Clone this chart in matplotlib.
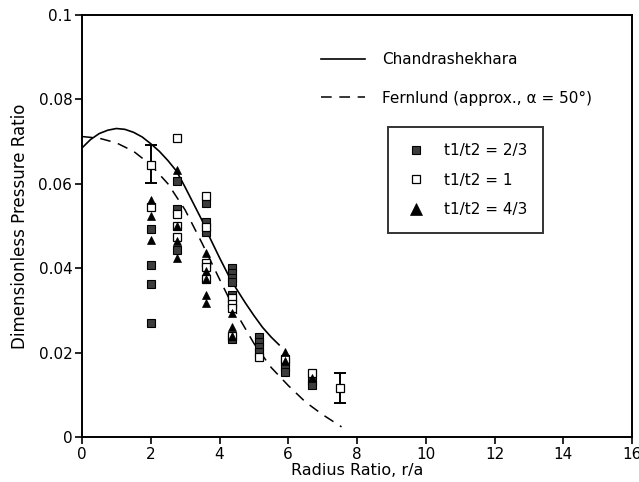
import matplotlib
matplotlib.use("Agg")
import matplotlib.pyplot as plt
from matplotlib.lines import Line2D

# ---- data ----
chand_x = [0.0, 0.25, 0.5, 0.75, 1.0, 1.25, 1.5, 1.75, 2.0, 2.25, 2.5, 2.75, 3.0, 3.25,
           3.5, 3.75, 4.0, 4.25, 4.5, 4.75, 5.0, 5.25, 5.5, 5.75]
chand_y = [0.0685, 0.0705, 0.0719, 0.0727, 0.0731, 0.0729, 0.0722, 0.0711, 0.0695, 0.0677,
           0.0655, 0.0630, 0.0592, 0.0552, 0.0512, 0.0467, 0.0425, 0.0385, 0.0350, 0.0318,
           0.0288, 0.0260, 0.0237, 0.0217]

fern_x = [0.0, 0.5, 1.0, 1.5, 2.0, 2.5, 3.0, 3.5, 4.0, 4.5, 5.0, 5.5, 6.0, 6.5, 7.0, 7.55]
fern_y = [0.0712, 0.0708, 0.0697, 0.0677, 0.0645, 0.0600, 0.0538, 0.0458, 0.0374, 0.0292,
          0.0222, 0.0165, 0.0122, 0.0083, 0.0053, 0.0024]

# t1/t2 = 2/3 (filled squares)
f_x = [2, 2, 2, 2, 2.75, 2.75, 2.75, 3.6, 3.6, 3.6,
       4.35, 4.35, 4.35, 4.35, 4.35, 4.35, 5.15, 5.15, 5.15, 5.15,
       5.9, 5.9, 5.9, 6.7, 6.7]
f_y = [0.0492, 0.0408, 0.0363, 0.0271, 0.0607, 0.0540, 0.0443, 0.0555, 0.0510, 0.0486,
       0.0400, 0.0388, 0.0376, 0.0368, 0.0336, 0.0232, 0.0238, 0.0226, 0.0214, 0.0202,
       0.0178, 0.0167, 0.0155, 0.0133, 0.0123]

# t1/t2 = 1 (open squares)
o_x = [2, 2, 2.75, 2.75, 2.75, 2.75, 3.6, 3.6, 3.6, 3.6, 3.6,
       4.35, 4.35, 4.35, 4.35, 5.15, 5.9, 6.7, 7.5]
o_y = [0.0645, 0.0544, 0.0708, 0.0528, 0.0500, 0.0475, 0.0571, 0.0498, 0.0413, 0.0402, 0.0374,
       0.0329, 0.0315, 0.0305, 0.0239, 0.0190, 0.0186, 0.0151, 0.0115]

# t1/t2 = 4/3 (triangles)
t_x = [2, 2, 2, 2.75, 2.75, 2.75, 2.75, 3.6, 3.6, 3.6, 3.6, 3.6,
       4.35, 4.35, 4.35, 5.9, 5.9, 6.7]
t_y = [0.0562, 0.0524, 0.0468, 0.0633, 0.0500, 0.0465, 0.0423, 0.0437, 0.0394, 0.0374, 0.0336,
       0.0317, 0.0295, 0.0261, 0.0239, 0.0202, 0.0180, 0.0139]

# error bars (open squares)
err_x = [2, 7.5]
err_y = [0.0645, 0.0115]
err_lo = [0.0601, 0.0081]
err_hi = [0.0692, 0.0152]

xticks = [0, 2, 4, 6, 8, 10, 12, 14, 16]
yticks = [0, 0.02, 0.04, 0.06, 0.08, 0.1]
ytick_labels = ["0", "0.02", "0.04", "0.06", "0.08", "0.1"]

# ---- figure ----
plt.rcParams['font.family'] = ['DejaVu Sans']
W, H = 639, 482
fig = plt.figure(figsize=(W / 100, H / 100), dpi=100)
L, R, T, B = 82, 632, 15, 437
ax = fig.add_axes([L / W, 1 - B / H, (R - L) / W, (B - T) / H])

ax.plot(chand_x, chand_y, color='black', lw=1.2, solid_capstyle='butt')
ax.plot(fern_x, fern_y, color='black', lw=1.1, dashes=(7, 5))

ax.errorbar(err_x, err_y,
            yerr=[[y - lo for y, lo in zip(err_y, err_lo)], [hi - y for y, hi in zip(err_y, err_hi)]],
            fmt='none', ecolor='black', elinewidth=1.4, capsize=4, capthick=1.4, zorder=2)

ms = 6.0
ax.plot(f_x, f_y, ls='none', marker='s', ms=ms, mfc='#3c3c3c', mec='black', mew=0.8, zorder=3)
ax.plot(o_x, o_y, ls='none', marker='s', ms=ms, mfc='white', mec='black', mew=0.9, zorder=4)
ax.plot(t_x, t_y, ls='none', marker='^', ms=ms, mfc='black', mec='black', mew=0.5, zorder=5)

ax.set_xlim(0, 16)
ax.set_ylim(0, 0.1)
ax.set_xticks(xticks)
ax.set_xticklabels([str(v) for v in xticks])
ax.set_yticks(yticks)
ax.set_yticklabels(ytick_labels)
ax.tick_params(axis='both', direction='out', length=5, width=1.2, labelsize=11, pad=2,
               top=False, right=False)
for s in ax.spines.values():
    s.set_linewidth(1.4)

ax.set_xlabel("Radius Ratio, r/a", fontsize=11.5, fontweight='medium', labelpad=1)
ax.set_ylabel("Dimensionless Pressure Ratio", fontsize=12, fontweight='medium', labelpad=7)

# legend 1: theory lines (no frame)
h1 = [Line2D([], [], color='black', lw=1.2),
      Line2D([], [], color='black', lw=1.1, dashes=(7, 5))]
leg1 = ax.legend(h1, ["Chandrashekhara", "Fernlund (approx., \u03b1 = 50\u00b0)"],
                 loc='upper left', bbox_to_anchor=(321 / W, 1 - 52 / H),
                 bbox_transform=fig.transFigure, frameon=False, fontsize=11,
                 handlelength=2.9, handletextpad=1.1, labelspacing=1.55,
                 borderpad=0, borderaxespad=0)
ax.add_artist(leg1)

# legend 2: data markers (framed)
h2 = [Line2D([], [], ls='none', marker='s', ms=ms, mfc='#3c3c3c', mec='black', mew=0.8),
      Line2D([], [], ls='none', marker='s', ms=ms, mfc='white', mec='black', mew=0.9),
      Line2D([], [], ls='none', marker='^', ms=ms + 2, mfc='black', mec='black', mew=0.5)]
leg2 = ax.legend(h2, ["t1/t2 = 2/3", "t1/t2 = 1", "t1/t2 = 4/3"],
                 loc='upper left', bbox_to_anchor=(388 / W, 1 - 127 / H),
                 bbox_transform=fig.transFigure, frameon=True, fancybox=False,
                 fontsize=11, handlelength=1.6, handletextpad=1.0, labelspacing=0.95,
                 borderpad=1.05, borderaxespad=0)
leg2.get_frame().set_edgecolor('black')
leg2.get_frame().set_linewidth(1.4)

fig.savefig("out.png", dpi=100)
